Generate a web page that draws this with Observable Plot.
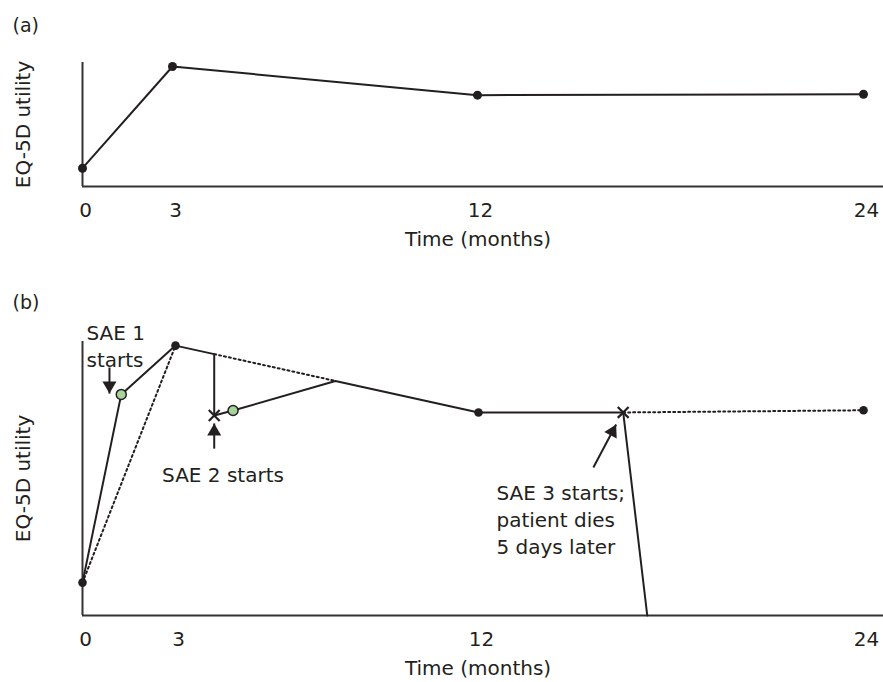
<!DOCTYPE html>
<html>
<head>
<meta charset="utf-8">
<script src="https://cdn.jsdelivr.net/npm/d3@7"></script>
<script src="https://cdn.jsdelivr.net/npm/@observablehq/plot@0.6"></script>
<style>
  body { margin: 0; background: #fff; }
  #chart svg { display: block; }
</style>
</head>
<body>
<div id="chart"></div>
<script>
// ---------- data ----------
const xTicks = [0, 3, 12, 24];
const obsMonths = [0, 3, 12, 24];
const obsUtility = [0.12, 0.985, 0.741, 0.749];

// panel (b): observed trajectory with SAEs (solid)
const solidMonths  = [0, 1.25, 3, 4.15, 4.15, 4.71, 7.75, 12, 16.51, 17.26];
const solidUtility = [0.12, 0.807, 0.985, 0.954, 0.730, 0.748, 0.856, 0.741, 0.741, 0];

// panel (b): trajectory ignoring SAE measurements (dotted segments)
const dotSeg     = [1, 1, 2, 2, 3, 3];
const dotMonths  = [0, 3, 4.15, 7.75, 16.51, 24];
const dotUtility = [0.12, 0.985, 0.954, 0.856, 0.741, 0.749];

// extra EQ-5D measurements at SAE (green)
const greenMonths  = [1.25, 4.71];
const greenUtility = [0.807, 0.748];

// SAE start markers (crosses)
const crossMonths  = [4.15, 16.51];
const crossUtility = [0.730, 0.741];

// annotation arrows
const arrowFromMonth = [0.87, 4.15, 15.58];
const arrowFromUtil  = [0.905, 0.609, 0.540];
const arrowToMonth   = [0.87, 4.15, 16.29];
const arrowToUtil    = [0.810, 0.701, 0.697];

// annotation texts
const noteText    = ["SAE 1\nstarts", "SAE 2 starts", "SAE 3 starts;\npatient dies\n5 days later"];
const noteMonth   = [0.13, 4.41, 12.56];
const noteUtility = [1.077, 0.558, 0.493];
const noteAnchor  = ["start", "middle", "start"];

const panelLabels = ["(a)", "(b)"];
const xLabel = "Time (months)";
const yLabel = "EQ-5D utility";

// ---------- tables ----------
const observed = obsMonths.map((m, i) => ({month: m, u: obsUtility[i]}));
const solid = solidMonths.map((m, i) => ({month: m, u: solidUtility[i]}));
const dotted = dotMonths.map((m, i) => ({month: m, u: dotUtility[i], seg: dotSeg[i]}));
const green = greenMonths.map((m, i) => ({month: m, u: greenUtility[i]}));
const crosses = crossMonths.map((m, i) => ({month: m, u: crossUtility[i]}));
const arrows = arrowFromMonth.map((m, i) => ({x1: m, y1: arrowFromUtil[i], x2: arrowToMonth[i], y2: arrowToUtil[i]}));
const notes = noteText.map((t, i) => ({text: t, month: noteMonth[i], u: noteUtility[i], anchor: noteAnchor[i]}));

const ink = "#231f20";
const axisInk = "#333333";
const font = "DejaVu Sans";
const fs = 20;

function common(yMin, label, labelDy) {
  return [
    Plot.ruleX([0], {stroke: axisInk, strokeWidth: 2}),
    Plot.ruleY([yMin], {stroke: axisInk, strokeWidth: 2}),
    Plot.axisX({ticks: xTicks, tickSize: 0, tickPadding: 16, dx: 3, label: null, fontSize: fs, fill: ink}),
    Plot.text([xLabel], {frameAnchor: "bottom", textAnchor: "middle", lineAnchor: "top", dy: 45, dx: -5, fontSize: fs, fill: ink}),
    Plot.text([yLabel], {frameAnchor: "left", textAnchor: "middle", lineAnchor: "middle", rotate: -90, dx: -59, fontSize: fs, fill: ink}),
    Plot.text([label], {frameAnchor: "top-left", textAnchor: "start", lineAnchor: "middle", dx: -70, dy: labelDy, fontSize: 19, fill: ink})
  ];
}

// ---------- panel (a) ----------
const yA = [-0.0356, 1.019];
const plotA = Plot.plot({
  width: 883, height: 270,
  marginLeft: 82, marginRight: 0, marginTop: 62, marginBottom: 84,
  style: {fontFamily: font, fontSize: fs + "px", color: ink, background: "#fff"},
  x: {type: "linear", domain: xTicks, range: [82, 172, 477, 863]},
  y: {domain: yA, axis: null},
  marks: [
    ...common(yA[0], panelLabels[0], -37),
    Plot.line(observed, {x: "month", y: "u", stroke: ink, strokeWidth: 2}),
    Plot.dot(observed, {x: "month", y: "u", r: 4.5, fill: ink})
  ]
});

// ---------- panel (b) ----------
const yB = [0, 1];
const headR = 5.2;
const tip = 8.1;
const plotB = Plot.plot({
  width: 883, height: 412,
  marginLeft: 82, marginRight: 0, marginTop: 71, marginBottom: 67,
  style: {fontFamily: font, fontSize: fs + "px", color: ink, background: "#fff"},
  x: {type: "linear", domain: xTicks, range: [82, 175, 478, 863]},
  y: {domain: yB, axis: null},
  marks: [
    ...common(yB[0], panelLabels[1], -38.5),
    Plot.line(dotted, {x: "month", y: "u", z: "seg", stroke: ink, strokeWidth: 2, strokeDasharray: "2,3"}),
    Plot.line(solid, {x: "month", y: "u", stroke: ink, strokeWidth: 2}),
    Plot.dot(observed, {x: "month", y: "u", r: 4.3, fill: ink}),
    Plot.dot(green, {x: "month", y: "u", r: 5, fill: "#a6d49b", stroke: ink, strokeWidth: 1.5}),
    Plot.dot(crosses, {x: "month", y: "u", symbol: "times", r: 5, stroke: ink, strokeWidth: 2.2}),
    Plot.link(arrows, {x1: "x1", y1: "y1", x2: "x2", y2: "y2", stroke: ink, strokeWidth: 2}),
    Plot.dot([arrows[0]], {x: "x2", y: "y2", symbol: "triangle", r: headR, fill: ink, rotate: 180, dy: -tip}),
    Plot.dot([arrows[1]], {x: "x2", y: "y2", symbol: "triangle", r: headR, fill: ink, rotate: 0, dy: tip}),
    Plot.dot([arrows[2]], {x: "x2", y: "y2", symbol: "triangle", r: headR, fill: ink, rotate: 27.6, dx: -tip * 0.463, dy: tip * 0.886}),
    Plot.text(notes.filter(d => d.anchor === "start"), {x: "month", y: "u", text: "text", textAnchor: "start", lineAnchor: "top", lineHeight: 1.35, fontSize: fs, fill: ink}),
    Plot.text(notes.filter(d => d.anchor === "middle"), {x: "month", y: "u", text: "text", textAnchor: "middle", lineAnchor: "top", lineHeight: 1.35, fontSize: fs, fill: ink})
  ]
});

const chart = document.getElementById("chart");
chart.appendChild(plotA);
chart.appendChild(plotB);
</script>
</body>
</html>
